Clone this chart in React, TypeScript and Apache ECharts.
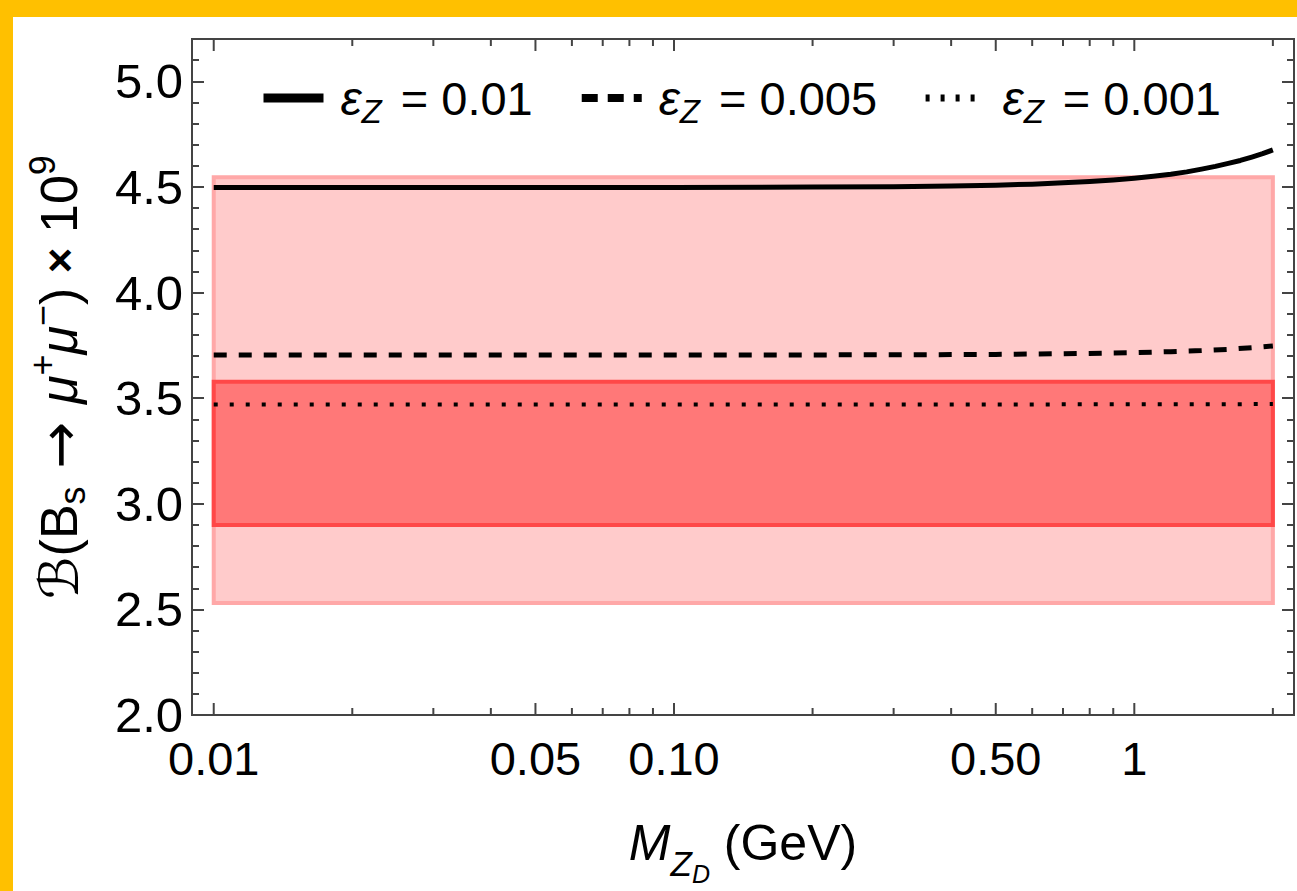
import React, { useEffect, useRef } from "react";
import * as echarts from "echarts";

// ---------- data ----------
const epsValues = ["0.01", "0.005", "0.001"];
const seriesNames = epsValues.map((v) => `εZ = ${v}`);

const massSolid = [0.01, 0.05, 0.1, 0.2, 0.3, 0.4, 0.5, 0.6, 0.7, 0.8, 0.9, 1.0, 1.1, 1.2, 1.3, 1.4, 1.5, 1.6, 1.7, 1.8, 1.9, 2.0];
const brSolid = [4.497, 4.497, 4.497, 4.499, 4.501, 4.504, 4.508, 4.513, 4.519, 4.526, 4.533, 4.541, 4.55, 4.56, 4.571, 4.584, 4.597, 4.611, 4.625, 4.641, 4.657, 4.675];

const massDashed = [0.01, 0.1, 0.3, 0.5, 0.7, 1.0, 1.2, 1.4, 1.6, 1.8, 2.0];
const brDashed = [3.704, 3.704, 3.705, 3.707, 3.71, 3.715, 3.72, 3.725, 3.731, 3.739, 3.747];

const massDotted = [0.01, 0.5, 1.0, 1.5, 2.0];
const brDotted = [3.47, 3.47, 3.471, 3.471, 3.472];

const bandMass = [0.01, 2];
const outerBand = [2.53, 4.545];
const innerBand = [2.9, 3.578];

const xTicks = [0.01, 0.02, 0.03, 0.04, 0.05, 0.06, 0.07, 0.08, 0.09, 0.1, 0.2, 0.3, 0.4, 0.5, 0.6, 0.7, 0.8, 0.9, 1, 2];
const xMajorTicks = [0.01, 0.05, 0.1, 0.5, 1];
const xTickLabels = ["0.01", "0.05", "0.10", "0.50", "1"];

const xMin = 0.00897;
const xMax = 2.223;
const yMin = 2;
const yMax = 5.2;
const yMajorStep = 0.5;
const yMinorStep = 0.1;

// ---------- styles ----------
const FONT = '"Liberation Sans", Arial, "DejaVu Sans", sans-serif';
const FRAME = "#444444";
const bandFills = ["#FFCBCB", "#FF7878"];
const bandStrokes = ["#FFA8A8", "#FF4848"];
const hiddenSymbol = { color: "rgba(0,0,0,0)", borderWidth: 0, opacity: 0 };

export default function App() {
  const ref = useRef<HTMLDivElement>(null);

  useEffect(() => {
    if (!ref.current) return;
    const chart = echarts.init(ref.current, undefined, { renderer: "svg" });

    const yAxisCommon = {
      type: "value",
      min: yMin,
      max: yMax,
      axisLine: { show: false },
      splitLine: { show: false },
    };

    const option: any = {
      animation: false,
      backgroundColor: "#ffffff",
      grid: {
        left: 192,
        right: 3,
        top: 39,
        bottom: 168,
        show: true,
        borderColor: FRAME,
        borderWidth: 2,
        backgroundColor: "transparent",
      },
      graphic: [
        { type: "rect", left: 0, top: 0, shape: { width: 1297, height: 17 }, style: { fill: "#FFC000" }, z: 100 },
        { type: "rect", left: 0, top: 0, shape: { width: 13, height: 891 }, style: { fill: "#FFC000" }, z: 100 },
      ],
      legend: {
        left: 259,
        top: 74,
        padding: 0,
        itemWidth: 60,
        itemHeight: 16,
        itemGap: 45,
        selectedMode: false,
        data: [
          { name: seriesNames[0], lineStyle: { width: 9, type: "solid" }, itemStyle: hiddenSymbol },
          { name: seriesNames[1], lineStyle: { width: 8, type: [16, 10] }, itemStyle: hiddenSymbol },
          { name: seriesNames[2], lineStyle: { width: 7, type: [4, 11] }, itemStyle: hiddenSymbol },
        ],
        formatter: (name: string) => {
          const i = seriesNames.indexOf(name);
          return `{e|ε}{z|Z}{t|= ${epsValues[i]}}`;
        },
        textStyle: {
          color: "#000",
          fontFamily: FONT,
          fontSize: 47,
          rich: {
            e: { fontSize: 48, fontStyle: "italic", fontFamily: FONT, color: "#000", padding: [0, 0, 0, 12] },
            z: { fontSize: 33, fontStyle: "italic", fontFamily: FONT, color: "#000", padding: [26, 19, 0, 0] },
            t: { fontSize: 47, fontFamily: FONT, color: "#000" },
          },
        },
      },
      xAxis: {
        type: "log",
        min: xMin,
        max: xMax,
        axisLine: { show: false },
        axisTick: { show: false },
        axisLabel: { show: false },
        splitLine: { show: false },
        minorTick: { show: false },
        name: "{m|M}{z|Z}{d|D}{b| (GeV)}",
        nameLocation: "middle",
        nameGap: 84,
        nameTextStyle: {
          color: "#000",
          fontFamily: FONT,
          fontSize: 50,
          rich: {
            m: { fontSize: 50, fontStyle: "italic", fontFamily: FONT, color: "#000" },
            z: { fontSize: 35, fontStyle: "italic", fontFamily: FONT, color: "#000", padding: [42, 0, 0, 0] },
            d: { fontSize: 25, fontStyle: "italic", fontFamily: FONT, color: "#000", padding: [62, 0, 0, 0] },
            b: { fontSize: 50, fontFamily: FONT, color: "#000" },
          },
        },
      },
      yAxis: [
        {
          ...yAxisCommon,
          position: "left",
          interval: yMajorStep,
          axisTick: { show: true, inside: true, length: 12, lineStyle: { color: FRAME, width: 2 } },
          axisLabel: {
            show: true,
            margin: 9,
            color: "#000",
            fontFamily: FONT,
            fontSize: 49,
            showMaxLabel: false,
            formatter: (v: number) => v.toFixed(1),
          },
          name: "{c|ℬ}{b|(B}{s|s}{a| → }{m|μ}{p|+}{m|μ}{p|−}{b|) }{x|×}{b| 10}{p|9}",
          nameLocation: "middle",
          nameRotate: 90,
          nameGap: 98,
          nameTextStyle: {
            color: "#000",
            fontFamily: FONT,
            fontSize: 52,
            rich: {
              c: { fontSize: 54, fontFamily: '"DejaVu Serif", "DejaVu Sans", serif', color: "#000" },
              b: { fontSize: 52, fontFamily: FONT, color: "#000" },
              a: { fontSize: 56, fontFamily: '"DejaVu Sans", sans-serif', color: "#000" },
              m: { fontSize: 52, fontStyle: "italic", fontFamily: FONT, color: "#000" },
              x: { fontSize: 44, fontWeight: "bold", fontFamily: FONT, color: "#000" },
              s: { fontSize: 36, fontFamily: FONT, color: "#000", padding: [26, 0, 0, 0] },
              p: { fontSize: 36, fontFamily: FONT, color: "#000", padding: [0, 0, 34, 0] },
            },
          },
        },
        {
          ...yAxisCommon,
          position: "left",
          interval: yMinorStep,
          axisTick: { show: true, inside: true, length: 7, lineStyle: { color: FRAME, width: 2 } },
          axisLabel: { show: false },
        },
        {
          ...yAxisCommon,
          position: "right",
          interval: yMajorStep,
          axisTick: { show: true, inside: true, length: 12, lineStyle: { color: FRAME, width: 2 } },
          axisLabel: { show: false },
        },
        {
          ...yAxisCommon,
          position: "right",
          interval: yMinorStep,
          axisTick: { show: true, inside: true, length: 7, lineStyle: { color: FRAME, width: 2 } },
          axisLabel: { show: false },
        },
      ],
      series: [
        {
          type: "custom",
          name: "bands",
          z: 1,
          clip: false,
          silent: true,
          encode: { x: [0, 2], y: [1, 3] },
          data: [
            [bandMass[0], outerBand[0], bandMass[1], outerBand[1]],
            [bandMass[0], innerBand[0], bandMass[1], innerBand[1]],
          ],
          renderItem: (params: any, api: any) => {
            const p0 = api.coord([api.value(0), api.value(3)]);
            const p1 = api.coord([api.value(2), api.value(1)]);
            return {
              type: "rect",
              shape: { x: p0[0], y: p0[1], width: p1[0] - p0[0], height: p1[1] - p0[1] },
              style: { fill: bandFills[params.dataIndex], stroke: bandStrokes[params.dataIndex], lineWidth: 4 },
            };
          },
        },
        {
          type: "line",
          name: seriesNames[0],
          z: 3,
          data: massSolid.map((m, i) => [m, brSolid[i]]),
          symbol: "none",
          showSymbol: false,
          lineStyle: { color: "#000", width: 5, type: "solid", join: "round" },
          itemStyle: { color: "#000" },
        },
        {
          type: "line",
          name: seriesNames[1],
          z: 3,
          data: massDashed.map((m, i) => [m, brDashed[i]]),
          symbol: "none",
          showSymbol: false,
          lineStyle: { color: "#000", width: 5, type: [13, 12], cap: "butt" },
          itemStyle: { color: "#000" },
        },
        {
          type: "line",
          name: seriesNames[2],
          z: 3,
          data: massDotted.map((m, i) => [m, brDotted[i]]),
          symbol: "none",
          showSymbol: false,
          lineStyle: { color: "#000", width: 4, type: [4, 12], cap: "butt" },
          itemStyle: { color: "#000" },
        },
        {
          type: "custom",
          name: "xticks",
          z: 4,
          clip: false,
          silent: true,
          encode: { x: 0, y: 1 },
          data: xTicks.map((v) => [v, yMin, xMajorTicks.indexOf(v) >= 0 ? 1 : 0]),
          renderItem: (params: any, api: any) => {
            const v = api.value(0);
            const len = api.value(2) ? 12 : 7;
            const b = api.coord([v, yMin]);
            const t = api.coord([v, yMax]);
            return {
              type: "group",
              children: [
                { type: "line", shape: { x1: b[0], y1: b[1], x2: b[0], y2: b[1] - len }, style: { stroke: FRAME, lineWidth: 2 } },
                { type: "line", shape: { x1: t[0], y1: t[1], x2: t[0], y2: t[1] + len }, style: { stroke: FRAME, lineWidth: 2 } },
              ],
            };
          },
        },
        {
          type: "custom",
          name: "xlabels",
          z: 4,
          clip: false,
          silent: true,
          encode: { x: 0, y: 1 },
          data: xMajorTicks.map((v) => [v, yMin]),
          renderItem: (params: any, api: any) => {
            const p = api.coord([api.value(0), api.value(1)]);
            return {
              type: "text",
              x: p[0],
              y: p[1] + 20,
              style: {
                text: xTickLabels[params.dataIndex],
                fill: "#000",
                fontSize: 47,
                fontFamily: FONT,
                align: "center",
                verticalAlign: "top",
              },
            };
          },
        },
      ],
    };

    chart.setOption(option);
    return () => chart.dispose();
  }, []);

  return (
    <div
      ref={ref}
      style={{ position: "absolute", left: 0, top: 0, width: 1297, height: 891, background: "#fff" }}
    />
  );
}
